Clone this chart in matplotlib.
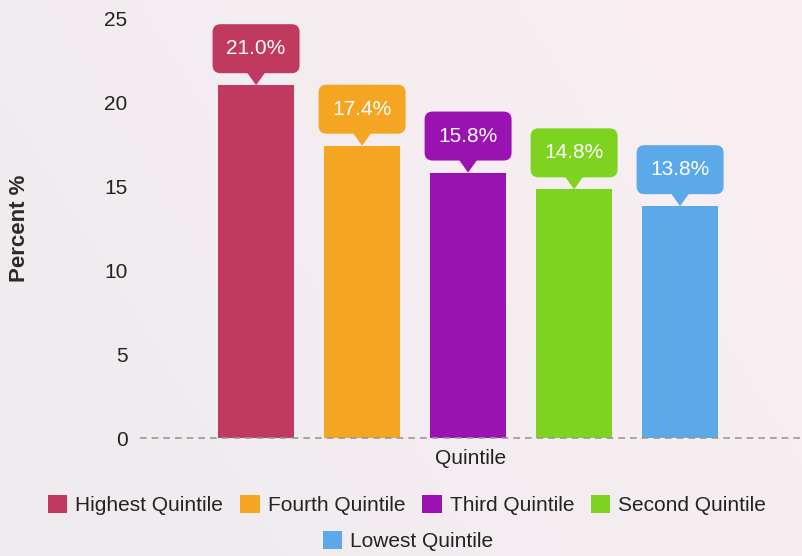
import numpy as np
import matplotlib.pyplot as plt
import matplotlib.transforms as mtransforms
from matplotlib.patches import FancyBboxPatch, Polygon, Patch

plt.rcParams['font.family'] = ['Liberation Sans', 'DejaVu Sans']

# Share of each income quintile
quintiles = ['Highest Quintile', 'Fourth Quintile', 'Third Quintile',
             'Second Quintile', 'Lowest Quintile']
percent = [21.0, 17.4, 15.8, 14.8, 13.8]
colors = ['#c0395f', '#f4a623', '#9a13b2', '#7ed321', '#5ba9e9']
yticks = [0, 5, 10, 15, 20, 25]

fig = plt.figure(figsize=(8.02, 5.56), dpi=100)

# soft pinkish background gradient
bg = fig.add_axes([0, 0, 1, 1], zorder=-10)
gx, gy = np.meshgrid(np.linspace(0, 1, 200), np.linspace(0, 1, 200))
grad = 0.7 * gx + 0.3 * (1 - gy)
c0 = np.array([0xee, 0xeb, 0xef]) / 255
c1 = np.array([0xfa, 0xef, 0xf2]) / 255
img = c0 + grad[..., None] * (c1 - c0)
bg.imshow(img, aspect='auto', extent=[0, 1, 0, 1], origin='upper')
bg.axis('off')

ax = fig.add_axes([140 / 802, 1 - 438 / 556, 1 - 140 / 802, (438 - 18) / 556])
ax.set_facecolor('none')

x = np.arange(len(percent))
ax.bar(x, percent, width=0.71, color=colors, zorder=2)

ax.set_xlim(-1.095, 5.15)
ax.set_ylim(0, 25)
ax.set_yticks(yticks)
ax.set_yticklabels([str(t) for t in yticks], fontsize=15, color='#222222')
ax.set_xticks([])
ax.tick_params(axis='y', length=0, pad=9)
for s in ax.spines.values():
    s.set_visible(False)
ax.axhline(0, color='#999999', lw=1.2, ls=(0, (4, 3)), zorder=3, clip_on=False)

ax.set_xlabel('Quintile', fontsize=15, color='#222222', labelpad=8)
fig.text(20 / 802, 1 - 228 / 556, 'Percent %', rotation=90, ha='center', va='center',
         fontsize=16, fontweight='bold', color='#2a2a2a')

# value callouts: rounded box with a small pointer down to the bar top
k = fig.dpi / 72.0
for xi, v, c in zip(x, percent, colors):
    tr = mtransforms.Affine2D().scale(k) + mtransforms.ScaledTranslation(xi, v, ax.transData)
    w, h, gap, r = 87 / k, 49 / k, 12 / k, 8 / k
    box = FancyBboxPatch((-w / 2 + r, gap + r), w - 2 * r, h - 2 * r,
                         boxstyle=f'round,pad={r}', fc=c, ec='none',
                         transform=tr, clip_on=False, zorder=4)
    ax.add_patch(box)
    tri = Polygon([(-10 / k, gap + 2 / k), (10 / k, gap + 2 / k), (0, 0)],
                  closed=True, fc=c, ec='none', transform=tr, clip_on=False, zorder=4)
    ax.add_patch(tri)
    ax.text(0, gap + h / 2, f'{v:.1f}%', transform=tr, ha='center', va='center',
            fontsize=15, color='white', zorder=5)

# legend in two rows
handles = [Patch(fc=c, ec='none') for c in colors]
leg_kw = dict(frameon=False, fontsize=15, handlelength=0.95, handleheight=0.95,
              handletextpad=0.38, columnspacing=0.8, labelcolor='#222222')
fig.legend(handles[:4], quintiles[:4], ncol=4, loc='center',
           bbox_to_anchor=(407 / 802, 1 - 505 / 556), **leg_kw)
fig.legend(handles[4:], quintiles[4:], ncol=1, loc='center',
           bbox_to_anchor=(408 / 802, 1 - 541 / 556), **leg_kw)

fig.savefig('out.png', dpi=100)
